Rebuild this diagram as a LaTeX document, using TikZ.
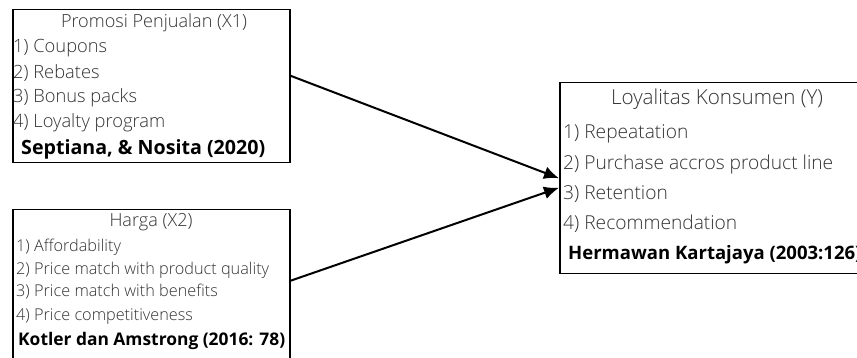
\documentclass[tikz,border=0pt]{standalone}
\usepackage{fontspec}
\setmainfont{Open Sans}
\newfontfamily\lightfont{Open Sans Light}
\usetikzlibrary{arrows.meta}
\definecolor{txtgray}{HTML}{333333}
\newlength\fitw
\newcommand\setfit[4]{%
  \setbox0=\hbox{#2\fontsize{10}{10}\selectfont #3}%
  \fitw=\wd0\relax
  \pgfmathsetmacro#1{10*#4/\fitw}}
\tikzset{
  boxframe/.style={draw=black, line width=1.5pt, fill=white, inner sep=0pt, anchor=north west},
  item/.style={anchor=base west, inner sep=0pt, text=txtgray, font=\lightfont\fontsize{#1}{#1}\selectfont},
  ttl/.style={anchor=base, inner sep=0pt, text=txtgray, font=\lightfont\fontsize{#1}{#1}\selectfont},
  src/.style={anchor=base west, inner sep=0pt, text=black, font=\bfseries\fontsize{#1}{#1}\selectfont},
  conn/.style={-{Latex[length=15pt,width=13pt]}, line width=2pt}
}
\begin{document}
\setfit{\fsTa}{\lightfont}{Promosi Penjualan (X1)}{186}%
\setfit{\fsIa}{\lightfont}{4) Loyalty program}{152}%
\setfit{\fsSa}{\bfseries}{Septiana, \& Nosita (2020)}{244}%
\setfit{\fsTb}{\lightfont}{Harga (X2)}{83}%
\setfit{\fsIb}{\lightfont}{2) Price match with product quality}{253}%
\setfit{\fsSb}{\bfseries}{Kotler dan Amstrong (2016: 78)}{267}%
\setfit{\fsTc}{\lightfont}{Loyalitas Konsumen (Y)}{212}%
\setfit{\fsIc}{\lightfont}{2) Purchase accros product line}{270}%
\setfit{\fsSc}{\bfseries}{Hermawan Kartajaya (2003:126}{287}%
\begin{tikzpicture}[x=1pt,y=-1pt]
\useasboundingbox (0,0) rectangle (857,358);
\clip (0,0) rectangle (857,358);
% boxes
\node[boxframe, minimum width=277pt, minimum height=153pt] (b1) at (12,9) {};
\node[boxframe, minimum width=277pt, minimum height=170pt] (b2) at (12,209) {};
\node[boxframe, minimum width=316pt, minimum height=191pt] (b3) at (559,82) {};
% box 1 text
\node[ttl=\fsTa] (t1) at (154,28) {Promosi Penjualan (X1)};
\node[item=\fsIa] (t1a) at (13,53) {1) Coupons};
\node[item=\fsIa] (t1b) at (13,79) {2) Rebates};
\node[item=\fsIa] (t1c) at (13,103) {3) Bonus packs};
\node[item=\fsIa] (t1d) at (13,128) {4) Loyalty program};
\node[src=\fsSa] (s1) at (21,155) {Septiana, \& Nosita (2020)};
% box 2 text
\node[ttl=\fsTb] (t2) at (151,227) {Harga (X2)};
\node[item=\fsIb] (t2a) at (16,252) {1) Affordability};
\node[item=\fsIb] (t2b) at (16,275) {2) Price match with product quality};
\node[item=\fsIb] (t2c) at (16,297) {3) Price match with benefits};
\node[item=\fsIb] (t2d) at (16,320) {4) Price competitiveness};
\node[src=\fsSb] (s2) at (18,345) {Kotler dan Amstrong (2016: 78)};
% box 3 text
\node[ttl=\fsTc] (t3) at (717,105) {Loyalitas Konsumen (Y)};
\node[item=\fsIc] (t3a) at (563,139) {1) Repeatation};
\node[item=\fsIc] (t3b) at (563,170) {2) Purchase accros product line};
\node[item=\fsIc] (t3c) at (563,200) {3) Retention};
\node[item=\fsIc] (t3d) at (563,230) {4) Recommendation};
\node[src=\fsSc] (s3) at (568,260) {Hermawan Kartajaya (2003:126)};
% connectors
\draw[conn] ([yshift=10.5pt]b1.east) -- (b3.west);
\draw[conn] ([yshift=14pt]b2.east) -- ([yshift=-9.5pt]b3.west);
\end{tikzpicture}
\end{document}
